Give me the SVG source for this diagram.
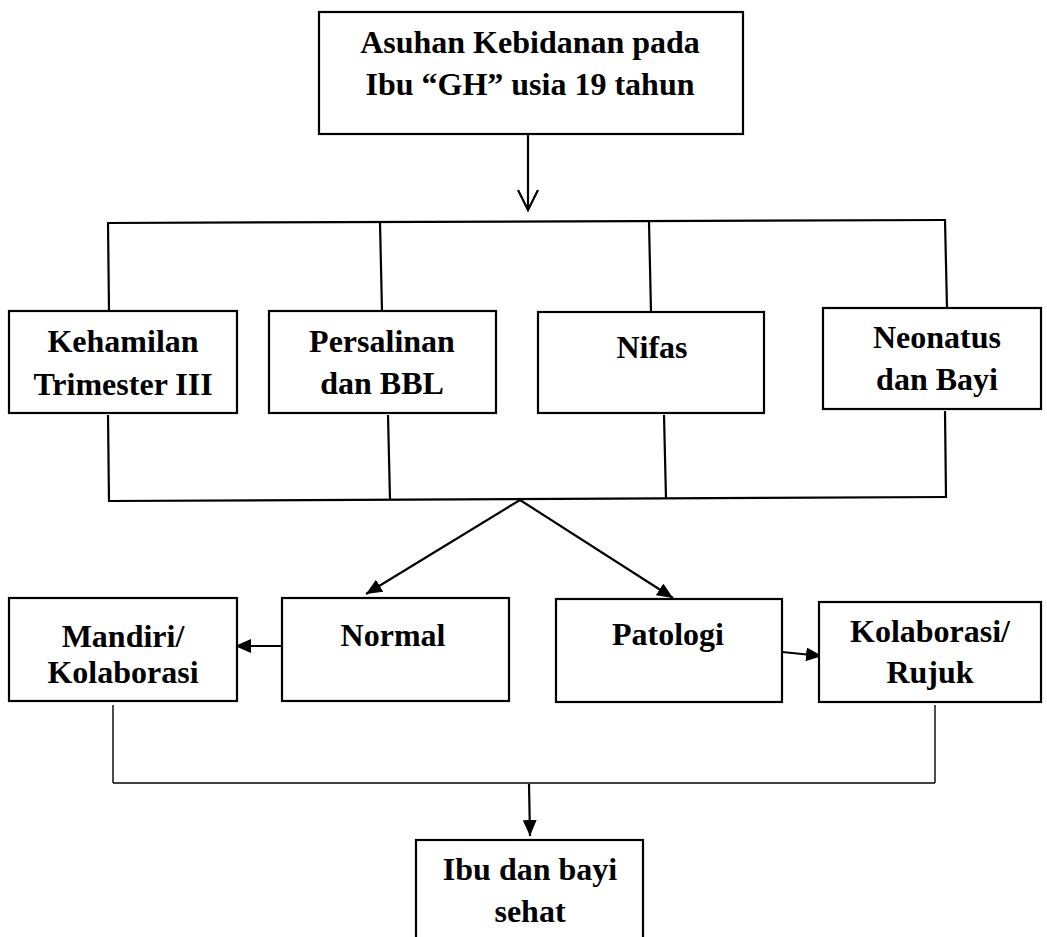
<svg xmlns="http://www.w3.org/2000/svg" width="1047" height="937" viewBox="0 0 1047 937">
<style>
  .box { fill: #fff; stroke: #000; stroke-width: 2.2; }
  .lbl { font-family: "Liberation Serif", "Times New Roman", serif; font-weight: bold; font-size: 32px; fill: #000; text-anchor: middle; }
  .ln { fill: none; stroke: #000; stroke-width: 2.2; }
  .thin { fill: none; stroke: #000; stroke-width: 1.4; }
</style>
<defs>
  <marker id="ah" markerUnits="userSpaceOnUse" markerWidth="16" markerHeight="14" refX="16" refY="7" orient="auto">
    <path d="M0,0 L16,7 L0,14 z" fill="#000"/>
  </marker>
</defs>
<rect width="1047" height="937" fill="#fff"/>

<g id="connectors">
  <!-- top arrow (open head) -->
  <line class="ln" x1="528" y1="134" x2="528" y2="210"/>
  <polyline class="ln" points="518,190 528,210 538,190"/>
  <!-- top bus -->
  <line class="ln" x1="107" y1="223" x2="946" y2="220"/>
  <line class="ln" x1="108" y1="223" x2="109" y2="311"/>
  <line class="ln" x1="380" y1="223" x2="382" y2="311"/>
  <line class="ln" x1="649" y1="222" x2="651" y2="312"/>
  <line class="ln" x1="945" y1="220" x2="947" y2="308"/>
  <!-- bottom bus -->
  <line class="ln" x1="108" y1="415" x2="109" y2="502"/>
  <line class="ln" x1="388" y1="415" x2="390" y2="500"/>
  <line class="ln" x1="664" y1="415" x2="666" y2="499"/>
  <line class="ln" x1="945" y1="411" x2="946" y2="498"/>
  <line class="ln" x1="110" y1="501" x2="947" y2="497"/>
  <!-- diagonal arrows -->
  <line class="ln" x1="520" y1="500" x2="366" y2="594" marker-end="url(#ah)"/>
  <line class="ln" x1="520" y1="500" x2="673" y2="598" marker-end="url(#ah)"/>
  <!-- side arrows -->
  <line class="ln" x1="282" y1="646" x2="235" y2="646" marker-end="url(#ah)"/>
  <line class="ln" x1="782" y1="652" x2="822" y2="656" marker-end="url(#ah)"/>
  <!-- final merge -->
  <line class="thin" x1="113" y1="705" x2="113" y2="783"/>
  <line class="thin" x1="935" y1="705" x2="935" y2="783"/>
  <line class="thin" x1="113" y1="783" x2="935" y2="783"/>
  <line class="ln" x1="529" y1="784" x2="530" y2="836" marker-end="url(#ah)"/>
</g>

<g id="node-asuhan">
  <rect class="box" x="319" y="12" width="424" height="122"/>
  <text class="lbl" x="530" y="53">Asuhan Kebidanan pada</text>
  <text class="lbl" x="530" y="95">Ibu “GH” usia 19 tahun</text>
</g>

<g id="node-kehamilan">
  <rect class="box" x="9" y="311" width="228" height="102"/>
  <text class="lbl" x="123" y="352">Kehamilan</text>
  <text class="lbl" x="123" y="395">Trimester III</text>
</g>

<g id="node-persalinan">
  <rect class="box" x="269" y="311" width="227" height="102"/>
  <text class="lbl" x="382" y="352">Persalinan</text>
  <text class="lbl" x="382" y="394">dan BBL</text>
</g>

<g id="node-nifas">
  <rect class="box" x="538" y="312" width="226" height="101"/>
  <text class="lbl" x="652" y="358">Nifas</text>
</g>

<g id="node-neonatus">
  <rect class="box" x="823" y="308" width="218" height="101"/>
  <text class="lbl" x="937" y="348">Neonatus</text>
  <text class="lbl" x="937" y="390">dan Bayi</text>
</g>

<g id="node-mandiri">
  <rect class="box" x="9" y="598" width="228" height="103"/>
  <text class="lbl" x="123" y="647">Mandiri/</text>
  <text class="lbl" x="123" y="683">Kolaborasi</text>
</g>

<g id="node-normal">
  <rect class="box" x="282" y="598" width="227" height="103"/>
  <text class="lbl" x="393" y="646">Normal</text>
</g>

<g id="node-patologi">
  <rect class="box" x="556" y="599" width="226" height="103"/>
  <text class="lbl" x="668" y="645">Patologi</text>
</g>

<g id="node-kolaborasi">
  <rect class="box" x="819" y="602" width="222" height="100"/>
  <text class="lbl" x="930" y="642">Kolaborasi/</text>
  <text class="lbl" x="930" y="683">Rujuk</text>
</g>

<g id="node-sehat">
  <rect class="box" x="416" y="840" width="227" height="110"/>
  <text class="lbl" x="530" y="880">Ibu dan bayi</text>
  <text class="lbl" x="530" y="922">sehat</text>
</g>
</svg>
